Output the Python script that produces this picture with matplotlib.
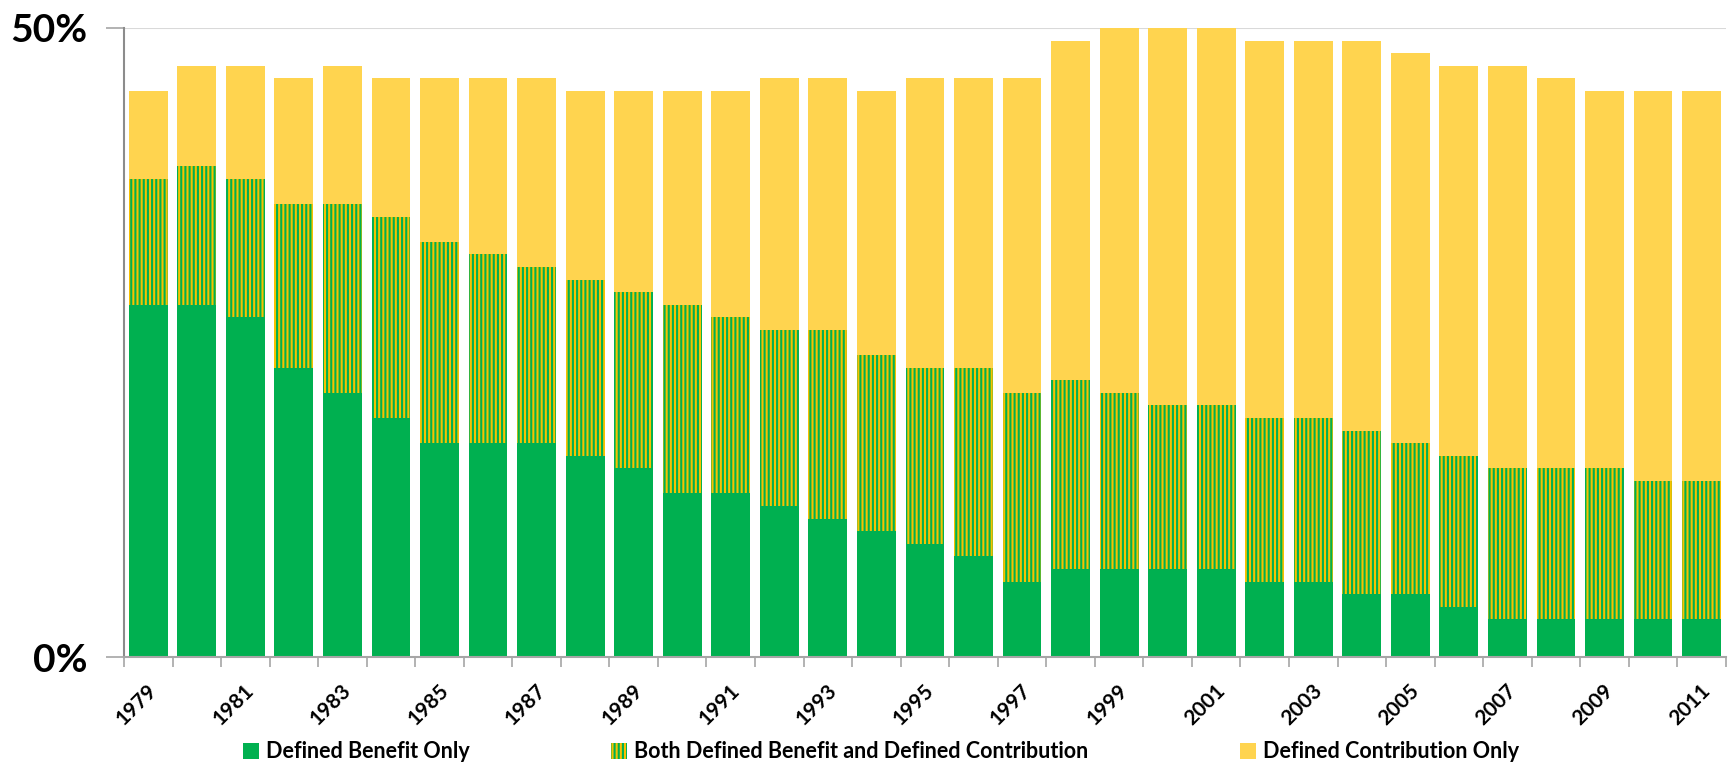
import matplotlib
matplotlib.use("Agg")
import matplotlib.pyplot as plt
from matplotlib.patches import Patch
import numpy as np

# share of workers by type of retirement plan, percent
years = list(range(1979, 2012))
db_only = [28, 28, 27, 23, 21, 19, 17, 17, 17, 16, 15, 13, 13, 12, 11, 10, 9,
           8, 6, 7, 7, 7, 7, 6, 6, 5, 5, 4, 3, 3, 3, 3, 3]
both = [10, 11, 11, 13, 15, 16, 16, 15, 14, 14, 14, 15, 14, 14, 15, 14, 14,
        15, 15, 15, 14, 13, 13, 13, 13, 13, 12, 12, 12, 12, 12, 11, 11]
dc_only = [7, 8, 9, 10, 11, 11, 13, 14, 15, 15, 16, 17, 18, 20, 20, 21, 23,
           23, 25, 27, 29, 30, 30, 30, 30, 31, 31, 31, 32, 31, 30, 31, 31]
labels = ["Defined Benefit Only",
          "Both Defined Benefit and Defined Contribution",
          "Defined Contribution Only"]

green = "#00B050"
stripe_yellow = "#F7C100"
yellow = "#FFD44F"
stripes = "||||"

plt.rcParams["font.family"] = ["Lato", "DejaVu Sans"]
plt.rcParams["hatch.linewidth"] = 1.5

fig = plt.figure(figsize=(17.29, 7.64), dpi=100)
ax = fig.add_axes([0.0717, 0.140, 0.9265, 0.8234])

x = np.arange(len(years))
db = np.array(db_only)
bo = np.array(both)
dc = np.array(dc_only)
w = 0.8

ax.bar(x, db, width=w, color=green, linewidth=0)
ax.bar(x, bo, width=w, bottom=db, facecolor=stripe_yellow, edgecolor=green,
       hatch=stripes, linewidth=0)
ax.bar(x, dc, width=w, bottom=db + bo, color=yellow, linewidth=0)

ax.set_xlim(-0.5, len(years) - 0.5)
ax.set_ylim(0, 50)

# top reference line at 50%
ax.axhline(50, color="#D9D9D9", linewidth=1.5, zorder=0)

ax.set_yticks([0, 50])
ax.set_yticklabels(["0%", "50%"], fontsize=28, fontweight="bold")
ax.tick_params(axis="y", length=13, width=1.2, color="#A6A6A6", pad=13,
               direction="out")

# category boundaries as ticks, labels on every other year
ax.set_xticks(np.arange(-0.5, len(years), 1.0))
ax.set_xticklabels([])
ax.tick_params(axis="x", length=7, width=1.2, color="#A6A6A6")
for i, yr in enumerate(years):
    if i % 2 == 0:
        ax.text(i + 0.12, -2.4, str(yr), rotation=45, ha="right", va="center",
                rotation_mode="anchor", fontsize=15, fontweight="bold")

for side in ["top", "right"]:
    ax.spines[side].set_visible(False)
ax.spines["left"].set_color("#8C8C8C")
ax.spines["left"].set_linewidth(1.5)
ax.spines["bottom"].set_color("#A6A6A6")
ax.spines["bottom"].set_linewidth(1.5)

handles = [
    Patch(facecolor=green, linewidth=0),
    Patch(facecolor=stripe_yellow, edgecolor=green, hatch=stripes, linewidth=0),
    Patch(facecolor=yellow, linewidth=0),
]
legend_x = [243 / 1729, 611 / 1729, 1240 / 1729]
for h, lab, lx in zip(handles, labels, legend_x):
    fig.legend([h], [lab], loc="center left", bbox_to_anchor=(lx, 0.016),
               frameon=False, handlelength=0.75, handleheight=0.75,
               handletextpad=0.3, borderpad=0, borderaxespad=0,
               prop={"size": 15.5, "weight": "bold"})

fig.savefig("out.png", dpi=100)
